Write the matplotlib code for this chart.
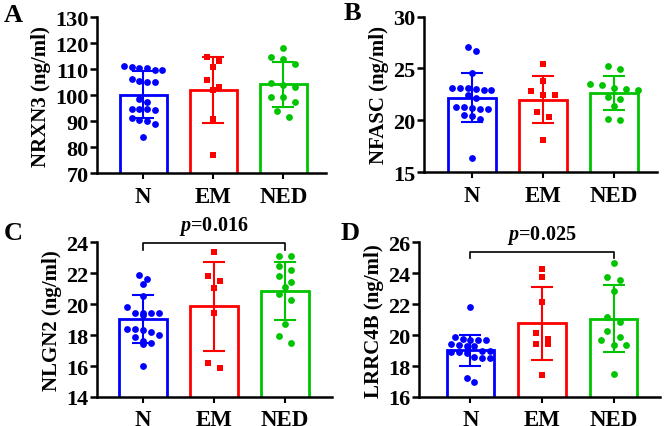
import numpy as np
import matplotlib
matplotlib.use('Agg')
import matplotlib.pyplot as plt

plt.rcParams['font.family'] = 'Liberation Serif'
plt.rcParams['font.weight'] = 'bold'
plt.rcParams['mathtext.fontset'] = 'custom'
plt.rcParams['mathtext.it'] = 'Liberation Serif:italic:bold'
plt.rcParams['mathtext.rm'] = 'Liberation Serif:bold'

groups = ['N', 'EM', 'NED']
colors = ['#0000ff', '#ff0000', '#00c400']
markers = ['o', 's', 'o']

# A - NRXN3
nrxn3_n = [110.3, 110.3, 109.6, 111.2, 109.6, 110.8, 106.1, 105.2, 105.2, 105.5, 98.4, 97.4,
           94.3, 94.5, 94.5, 94.5, 91.3, 90.3, 90.0, 88.7, 83.9]
nrxn3_em = [114.8, 113.2, 110.9, 105.7, 103.3, 102.0, 90.6, 77.1]
nrxn3_ned = [118.0, 113.9, 114.5, 111.9, 103.2, 104.8, 103.8, 99.4, 99.4, 97.5, 93.9, 91.7]
nrxn3_mean = [100.1, 102.1, 104.1]
nrxn3_sd = [9.0, 12.7, 8.6]

# B - NFASC
nfasc_n = [27.1, 26.7, 24.6, 23.1, 23.1, 22.95, 22.9, 23.0, 23.1, 22.4, 22.2, 21.25, 21.1, 21.1,
           21.15, 21.25, 20.4, 20.5, 20.1, 16.4]
nfasc_em = [25.4, 23.8, 22.8, 22.4, 22.4, 20.8, 20.35, 18.1]
nfasc_ned = [24.9, 25.2, 23.4, 23.0, 23.5, 22.9, 23.1, 22.3, 22.05, 21.4, 20.0, 20.1]
nfasc_mean = [22.2, 22.0, 22.65]
nfasc_sd = [2.35, 2.25, 1.65]

# C - NLGN2
nlgn2_n = [21.9, 21.6, 21.3, 20.5, 19.8, 19.4, 19.4, 19.3, 19.4, 19.4, 18.4, 18.3, 18.4, 18.2,
           17.9, 18.0, 17.6, 17.5, 17.4, 16.0]
nlgn2_em = [23.4, 21.85, 21.5, 21.05, 19.4, 16.2, 15.9]
nlgn2_ned = [23.1, 23.1, 22.45, 22.2, 21.85, 21.45, 21.1, 20.65, 20.25, 18.7, 17.95, 17.5]
nlgn2_mean = [19.07, 19.88, 20.86]
nlgn2_sd = [1.55, 2.88, 1.88]

# D - LRRC4B
lrrc4b_n = [21.8, 19.75, 19.7, 19.7, 19.7, 19.85, 19.3, 19.3, 19.35, 19.4, 18.95, 18.9, 18.9,
            19.0, 18.85, 18.55, 18.55, 18.6, 17.25, 16.95]
lrrc4b_em = [24.3, 23.75, 22.15, 19.75, 20.15, 19.45, 19.4, 17.4]
lrrc4b_ned = [24.65, 23.75, 23.55, 22.85, 21.15, 20.85, 20.25, 19.9, 19.7, 19.35, 19.35, 17.5]
lrrc4b_mean = [19.02, 20.77, 21.07]
lrrc4b_sd = [0.99, 2.36, 2.19]


def spread(vals, center, yrange, dx, tol=0.045):
    # simple beeswarm: points with close values share a row
    vals = np.sort(np.asarray(vals))[::-1]
    xs, ys = [], []
    i = 0
    while i < len(vals):
        j = i
        while j < len(vals) and vals[i] - vals[j] < tol * yrange:
            j += 1
        n = j - i
        for k in range(n):
            xs.append(center + (k - (n - 1) / 2) * dx)
            ys.append(vals[i + k])
        i = j
    return xs, ys


def panel(rect, data, means, sds, ylim, yticks, ylabel, xlim, sig=None):
    ax = fig.add_axes(rect)
    x = np.arange(3)
    ax.bar(x, means, width=0.67, color='white', edgecolor=colors, linewidth=2, zorder=1)
    for i in range(3):
        xs, ys = spread(data[i], i, ylim[1] - ylim[0], 0.11 if i == 0 else 0.17)
        ax.scatter(xs, ys, s=24 if markers[i] == 'o' else 20, marker=markers[i],
                   color=colors[i], zorder=2, linewidths=0)
        ax.errorbar(i, means[i], yerr=sds[i], color=colors[i], capsize=8,
                    elinewidth=1.5, capthick=1.5, zorder=3)
    ax.set_ylim(ylim)
    ax.set_xlim(xlim)
    ax.set_yticks(yticks)
    ax.set_xticks(x)
    ax.set_xticklabels(groups)
    ax.spines['top'].set_visible(False)
    ax.spines['right'].set_visible(False)
    ax.spines['left'].set_linewidth(1.8)
    ax.spines['bottom'].set_linewidth(1.8)
    ax.tick_params(axis='y', labelsize=16, width=1.8, length=5, pad=1)
    ax.tick_params(axis='x', labelsize=16.5, width=1.5, length=4, pad=5)
    ax.set_ylabel(ylabel, fontsize=15, fontweight='bold', labelpad=3)
    for lab in ax.get_xticklabels() + ax.get_yticklabels():
        lab.set_fontweight('bold')
    if sig is not None:
        yb, yd, ytxt, txt = sig
        ax.plot([0, 0, 2, 2], [yd, yb, yb, yd], color='black', lw=1.2, clip_on=False)
        ax.text(1, ytxt, txt, ha='center', va='bottom', fontsize=14.5,
                fontweight='bold', clip_on=False)
    return ax


fig = plt.figure(figsize=(6.64, 4.27), dpi=100)

panel([0.146, 0.5925, 0.345, 0.365], [nrxn3_n, nrxn3_em, nrxn3_ned], nrxn3_mean, nrxn3_sd,
      (70, 130), range(70, 131, 10), 'NRXN3 (ng/ml)', (-0.66, 2.61))
panel([0.638, 0.594, 0.351, 0.365], [nfasc_n, nfasc_em, nfasc_ned], nfasc_mean, nfasc_sd,
      (15, 30), [15, 20, 25, 30], 'NFASC (ng/ml)', (-0.68, 2.6))
panel([0.146, 0.068, 0.354, 0.362], [nlgn2_n, nlgn2_em, nlgn2_ned], nlgn2_mean, nlgn2_sd,
      (14, 24), range(14, 25, 2), 'NLGN2 (ng/ml)', (-0.65, 2.66),
      sig=(23.96, 23.53, 24.35, '$p$=0.016'))
panel([0.631, 0.068, 0.363, 0.362], [lrrc4b_n, lrrc4b_em, lrrc4b_ned], lrrc4b_mean, lrrc4b_sd,
      (16, 26), range(16, 27, 2), 'LRRC4B (ng/ml)', (-0.72, 2.65),
      sig=(25.35, 24.97, 25.75, '$p$=0.025'))

for letter, lx, ly in [('A', 13, 15), ('B', 352, 13), ('C', 13, 233), ('D', 350, 233)]:
    fig.text(lx / 664, 1 - ly / 427, letter, fontsize=19, fontweight='bold',
             ha='center', va='center')

fig.savefig('out.png', dpi=100)
